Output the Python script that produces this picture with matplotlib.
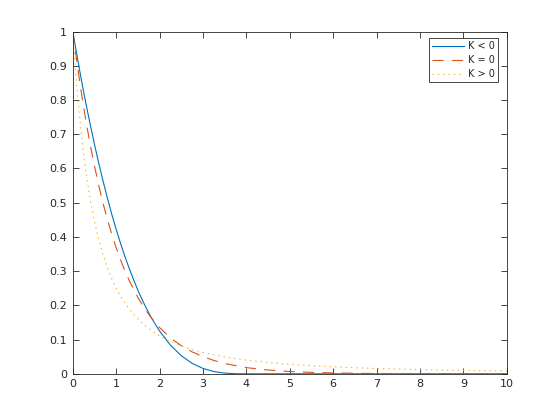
import numpy as np
import matplotlib
matplotlib.use("Agg")
import matplotlib.pyplot as plt

# values
x = [0, 0.1, 0.2, 0.3, 0.4, 0.5, 0.6, 0.7, 0.8, 0.9, 1.0,
     1.1, 1.2, 1.3, 1.4, 1.5, 1.6, 1.7, 1.8, 1.9, 2.0,
     2.25, 2.5, 2.75, 3.0, 3.25, 3.5, 3.75, 4.0,
     4.5, 5, 5.5, 6, 6.5, 7, 7.5, 8, 8.5, 9, 9.5, 10]

k_neg = [1, 0.927, 0.857, 0.791, 0.729, 0.670, 0.614, 0.562, 0.512, 0.465, 0.422,
         0.381, 0.343, 0.308, 0.275, 0.244, 0.216, 0.190, 0.166, 0.145, 0.125,
         0.0837, 0.0527, 0.0305, 0.0156, 0.0066, 0.002, 0.0002, 0,
         0, 0, 0, 0, 0, 0, 0, 0, 0, 0, 0, 0]

k_zero = [1, 0.905, 0.819, 0.741, 0.670, 0.607, 0.549, 0.497, 0.449, 0.407, 0.368,
          0.333, 0.301, 0.273, 0.247, 0.223, 0.202, 0.183, 0.165, 0.150, 0.135,
          0.105, 0.082, 0.064, 0.050, 0.039, 0.030, 0.024, 0.018,
          0.011, 0.0067, 0.0041, 0.0025, 0.0015, 0.0009, 0.0006, 0.0003, 0.0002, 0.0001, 0.0001, 0]

k_pos = [1, 0.826, 0.694, 0.592, 0.510, 0.444, 0.391, 0.346, 0.309, 0.277, 0.250,
         0.227, 0.207, 0.189, 0.174, 0.160, 0.148, 0.137, 0.128, 0.119, 0.111,
         0.0947, 0.0816, 0.0711, 0.0625, 0.0554, 0.0494, 0.0443, 0.040,
         0.0331, 0.0278, 0.0237, 0.0204, 0.0178, 0.0156, 0.0138, 0.0123, 0.0111, 0.0100, 0.0091, 0.0083]

labels = ["K < 0", "K = 0", "K > 0"]
xticks = list(range(0, 11))
yticks = [0, 0.1, 0.2, 0.3, 0.4, 0.5, 0.6, 0.7, 0.8, 0.9, 1]
yticklabels = ["0", "0.1", "0.2", "0.3", "0.4", "0.5", "0.6", "0.7", "0.8", "0.9", "1"]

dark = "#262626"

fig = plt.figure(figsize=(5.6, 4.2), dpi=100)
ax = fig.add_axes([0.13, 0.11, 0.775, 0.815])

ax.plot(x, k_neg, color="#0072BD", lw=0.8, label=labels[0])
ax.plot(x, k_zero, color="#D95319", lw=0.8, linestyle=(0, (10, 7.5)), label=labels[1])
ax.plot(x, k_pos, color="#EDB120", lw=0.8, linestyle=(0, (1.2, 3.6)), label=labels[2])

ax.set_xlim(0, 10)
ax.set_ylim(0, 1)
ax.set_xticks(xticks)
ax.set_yticks(yticks)
ax.set_yticklabels(yticklabels)
ax.tick_params(direction="in", length=4, width=0.6, colors=dark, labelsize=8,
               top=True, right=True, pad=4)
for s in ax.spines.values():
    s.set_color(dark)
    s.set_linewidth(0.6)

leg = ax.legend(loc="upper right", bbox_to_anchor=(0.979, 0.980), borderaxespad=0,
                fontsize=7, fancybox=False, edgecolor=dark, framealpha=1,
                handlelength=3.2, handletextpad=0.45, borderpad=0.3, labelspacing=0.4)
leg.get_frame().set_linewidth(0.6)
for t in leg.get_texts():
    t.set_color(dark)

fig.savefig("out.png", dpi=100)
